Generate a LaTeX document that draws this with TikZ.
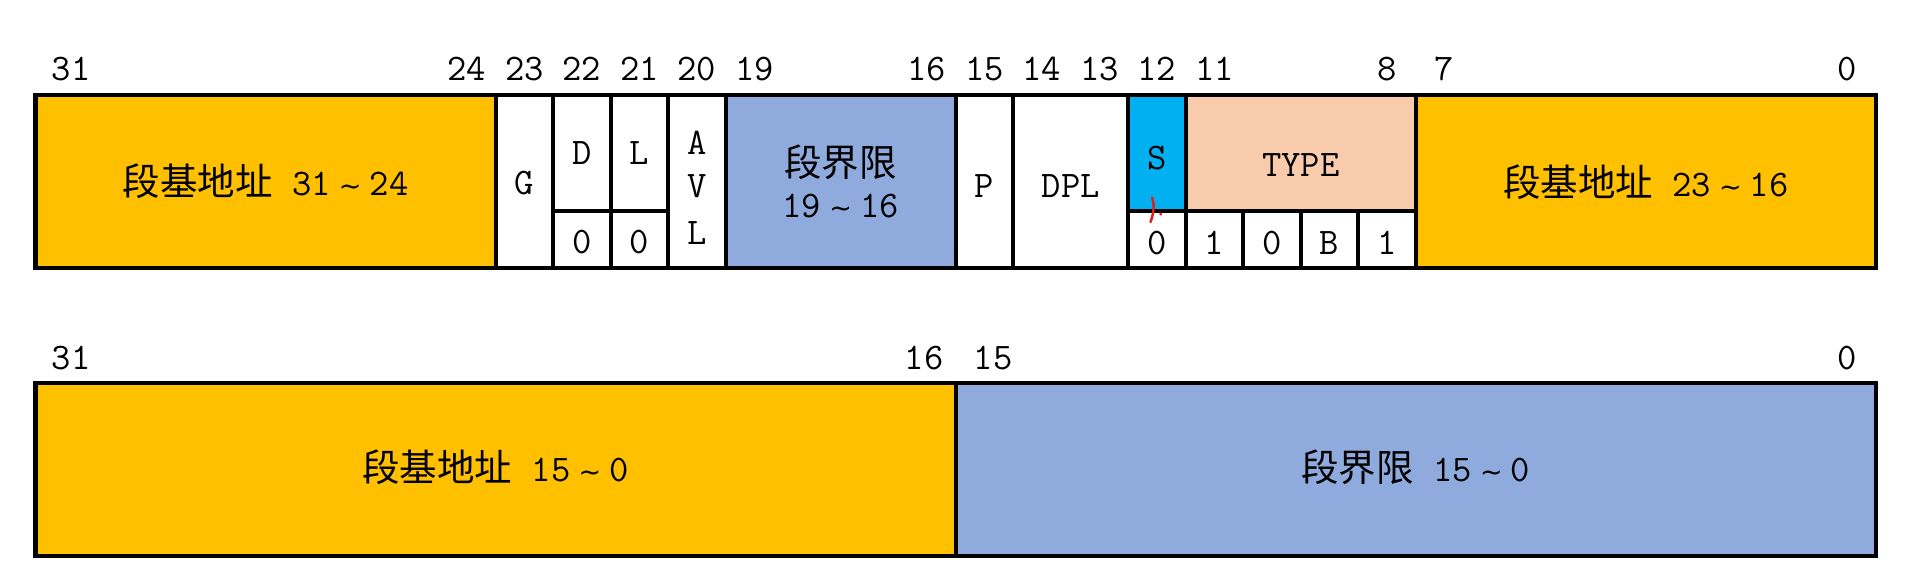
\documentclass[tikz,border=0pt]{standalone}
\usepackage{fontspec}
\usepackage{graphicx}
\newfontfamily\cjk{Noto Sans CJK SC}
\newfontfamily\djv{DejaVu Sans}
\definecolor{gold}{HTML}{FFC000}
\definecolor{limblue}{HTML}{8FAADC}
\definecolor{scyan}{HTML}{00B0F0}
\definecolor{peach}{HTML}{F8CBAD}
\definecolor{pen}{HTML}{E01E1E}
\newcommand\cj[1]{{\fontsize{37.5}{40}\selectfont\cjk #1}}
\newcommand\tld{\makebox[39pt][c]{\fontsize{27}{30}\selectfont\djv\char"007E}}
\tikzset{
  mono/.style={font=\fontsize{37.5}{40}\selectfont\ttfamily, inner sep=0pt, anchor=base},
  frame/.style={line width=4.5pt, draw=black},
  inner/.style={line width=4pt, draw=black},
}
\begin{document}
\begin{tikzpicture}[x=1pt,y=-1pt]
\fill[white] (0,0) rectangle (1920,581);
\useasboundingbox (0,0) rectangle (1920,581);
\begin{scope}[shift={(35.5,0)}, x=57.51pt]
  % ---------- top row fills
  \fill[gold] (0,95) rectangle (8,268);
  \fill[limblue] (12,95) rectangle (16,268);
  \fill[scyan] (19,95) rectangle (20,211);
  \fill[peach] (20,95) rectangle (24,211);
  \fill[gold] (24,95) rectangle (32,268);
  % ---------- top row lines
  \foreach \i in {8,9,10,11,12,16,17,19,20,24}
    \draw[inner] (\i,95) -- (\i,268);
  \draw[inner] (9,211) -- (11,211);
  \draw[inner] (19,211) -- (24,211);
  \foreach \i in {21,22,23}
    \draw[inner] (\i,211) -- (\i,268);
  \draw[frame] (0,95) rectangle (32,268);
  % ---------- bottom row
  \fill[gold] (0,383) rectangle (16,556);
  \fill[limblue] (16,383) rectangle (32,556);
  \draw[inner] (16,383) -- (16,556);
  \draw[frame] (0,383) rectangle (32,556);

  % ---------- top bit labels
  \node[mono] (t31) at (0.62,80) {31};
  \node[mono] (t24) at (7.5,80) {24};
  \node[mono] (t23) at (8.5,80) {23};
  \node[mono] (t22) at (9.5,80) {22};
  \node[mono] (t21) at (10.5,80) {21};
  \node[mono] (t20) at (11.5,80) {20};
  \node[mono] (t19) at (12.5,80) {19};
  \node[mono] (t16) at (15.5,80) {16};
  \node[mono] (t15) at (16.5,80) {15};
  \node[mono] (t14) at (17.5,80) {14};
  \node[mono] (t13) at (18.5,80) {13};
  \node[mono] (t12) at (19.5,80) {12};
  \node[mono] (t11) at (20.5,80) {11};
  \node[mono] (t8) at (23.5,80) {8};
  \node[mono] (t7) at (24.5,80) {7};
  \node[mono] (t0) at (31.5,80) {0};

  % ---------- top cell texts
  \node[mono] (base1) at (4,195) {\cj{段基地址} 31\tld 24};
  \node[mono] (g) at (8.5,194) {G};
  \node[mono] (d) at (9.5,164) {D};
  \node[mono] (l) at (10.5,164) {L};
  \node[mono] (d0) at (9.5,253) {0};
  \node[mono] (l0) at (10.5,253) {0};
  \node[mono] (avla) at (11.5,154) {A};
  \node[mono] (avlv) at (11.5,197.7) {V};
  \node[mono] (avll) at (11.5,244) {L};
  \node[mono] (lim1) at (14,176) {\cj{段界限}};
  \node[mono] (lim2) at (14,217.7) {19\tld 16};
  \node[mono] (p) at (16.5,197.7) {P};
  \node[mono] (dpl) at (18,197.7) {DPL};
  \node[mono] (s) at (19.5,169) {S};
  \node[mono] (s0) at (19.5,254) {0};
  \node[mono] (type) at (22,176) {TYPE};
  \node[mono] (ty1) at (20.5,254) {1};
  \node[mono] (ty2) at (21.5,254) {0};
  \node[mono] (ty3) at (22.5,254) {B};
  \node[mono] (ty4) at (23.5,254) {1};
  \node[mono] (base2) at (28,196) {\cj{段基地址} 23\tld 16};

  % ---------- bottom labels
  \node[mono] (b31) at (0.62,369) {31};
  \node[mono] (b16) at (15.45,369) {16};
  \node[mono] (b15) at (16.65,369) {15};
  \node[mono] (b0) at (31.5,369) {0};
  \node[mono] (base3) at (8,481) {\cj{段基地址} 15\tld 0};
  \node[mono] (lim3) at (24,481) {\cj{段界限} 15\tld 0};
\end{scope}
% red pen mark
\draw[pen, line width=2.5pt, line cap=round] (1152,197.5) .. controls (1155,205) and (1153.5,214) .. (1150.5,222);
\fill[pen] (1160.7,214) circle (1.7);
\end{tikzpicture}
\end{document}
